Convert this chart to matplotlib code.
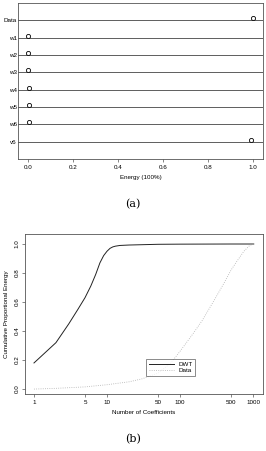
import numpy as np
import matplotlib
matplotlib.use("Agg")
import matplotlib.pyplot as plt

# panel (a): energy share per level
levels = ["Data", "w1", "w2", "w3", "w4", "w5", "w6", "v6"]
energy = [1.0, 0.0, 0.001, 0.002, 0.003, 0.004, 0.005, 0.99]

# panel (b): cumulative proportional energy
dwt_n = [1, 2, 3, 4, 5, 6, 7, 8, 9, 10, 11, 12, 13, 15, 20, 50, 100, 500, 1024]
dwt_e = [0.18, 0.32, 0.45, 0.55, 0.63, 0.71, 0.79, 0.87, 0.92, 0.95, 0.97, 0.98, 0.985, 0.99, 0.993, 0.998, 0.999, 1.0, 1.0]
data_n = [1, 2, 5, 10, 20, 30, 50, 75, 100, 150, 200, 300, 400, 500, 600, 750, 900, 1024]
data_e = [0.0, 0.005, 0.015, 0.03, 0.05, 0.07, 0.11, 0.18, 0.26, 0.38, 0.47, 0.62, 0.73, 0.82, 0.88, 0.95, 0.99, 1.0]
x_ticks = [1, 5, 10, 50, 100, 500, 1000]

W, H = 266, 451
fig = plt.figure(figsize=(W / 100, H / 100), dpi=100)
plt.rcParams['font.family'] = ['Liberation Sans', 'DejaVu Sans']

def px_axes(left, top, right, bottom):
    return fig.add_axes([left / W, 1 - bottom / H, (right - left) / W, (bottom - top) / H])

spine_col = '#555555'
fs = 4.5

# ---- (a) dotchart ----
ax1 = px_axes(18, 3, 263, 159)
pos = np.arange(len(levels), 0, -1)
for p in pos:
    ax1.axhline(p, color='#444444', lw=0.6, zorder=1)
ax1.scatter(energy, pos + 0.12, s=9, facecolors='white', edgecolors='black', linewidths=0.6, zorder=3)
ax1.set_xlim(-0.044, 1.044)
ax1.set_ylim(0, len(levels) + 1)
ax1.set_xticks(np.arange(0, 1.01, 0.2))
ax1.set_xticklabels([f"{v:.1f}" for v in np.arange(0, 1.01, 0.2)], fontsize=fs)
ax1.set_yticks(pos)
ax1.set_yticklabels(levels, fontsize=fs)
ax1.tick_params(axis='y', length=0, pad=1)
ax1.tick_params(axis='x', length=2, width=0.5, pad=2, color=spine_col)
ax1.set_xlabel("Energy (100%)", fontsize=fs, labelpad=4)
for s in ax1.spines.values():
    s.set_color(spine_col)
    s.set_linewidth(0.6)
fig.text(133 / W, 1 - 204 / H, "(a)", ha='center', va='center', fontsize=8, family='DejaVu Serif')

# ---- (b) cumulative energy ----
ax2 = px_axes(25, 234, 263, 394)
ax2.plot(dwt_n, dwt_e, color='#222222', lw=0.7, label="DWT")
ax2.plot(data_n, data_e, color='#b0b0b0', lw=0.6, ls=':', label="Data")
ax2.set_xscale('log')
ax2.set_xlim(10 ** -0.123, 10 ** 3.137)
ax2.set_ylim(-0.034, 1.069)
ax2.set_xticks(x_ticks)
ax2.set_xticklabels([str(t) for t in x_ticks], fontsize=fs)
ax2.xaxis.set_minor_locator(matplotlib.ticker.NullLocator())
ax2.set_yticks(np.arange(0, 1.01, 0.2))
ax2.set_yticklabels([f"{v:.1f}" for v in np.arange(0, 1.01, 0.2)], fontsize=fs, rotation=90, va='center')
ax2.tick_params(length=2, width=0.5, pad=2, color=spine_col)
ax2.set_xlabel("Number of Coefficients", fontsize=fs, labelpad=4)
ax2.set_ylabel("Cumulative Proportional Energy", fontsize=fs, labelpad=4)
for s in ax2.spines.values():
    s.set_color(spine_col)
    s.set_linewidth(0.6)
leg = ax2.legend(loc='lower left', bbox_to_anchor=((143 - 25) / 238, (394 - 379) / 160),
                 fontsize=fs, frameon=True, fancybox=False, edgecolor=spine_col,
                 handlelength=4, borderpad=0.4, labelspacing=0.2)
leg.get_frame().set_linewidth(0.6)
fig.text(133 / W, 1 - 439 / H, "(b)", ha='center', va='center', fontsize=8, family='DejaVu Serif')

fig.savefig("out.png", dpi=100)
